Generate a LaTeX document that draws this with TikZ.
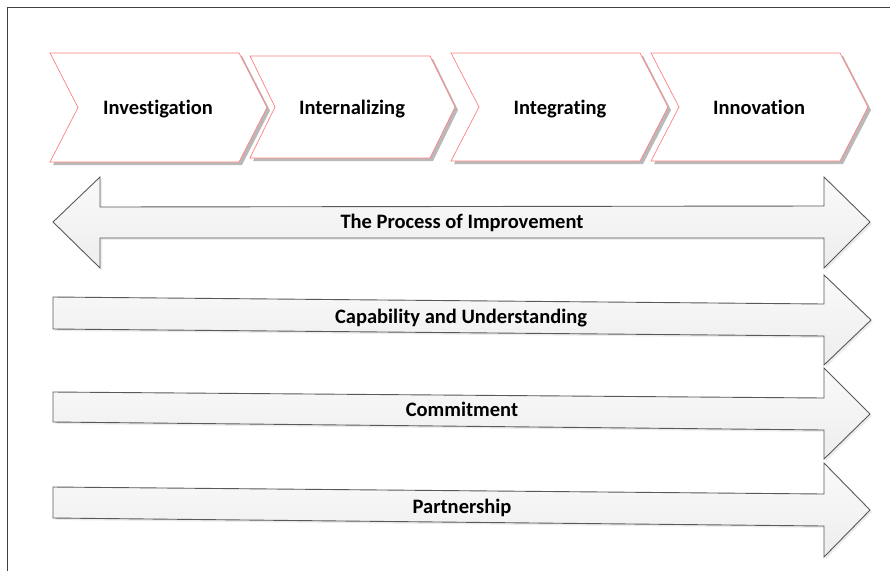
\documentclass[tikz,border=0pt]{standalone}
\usepackage{fontspec}
\setmainfont{Carlito}[Ligatures=NoCommon]
\usetikzlibrary{shadows}

% chevron outline: #1 = left x, #2 = top y, #3 = body width, #4 = height, #5 = point depth
\newcommand\chevronpath[5]{%
  (#1,#2) -- ++(#3,0) -- ++(#5,#4/2) -- ++(-#5,#4/2) -- ++(-#3,0) -- ++(#5,-#4/2) -- cycle}

\begin{document}
\begin{tikzpicture}[x=1pt,y=-1pt,
  chev/.style={draw=red!50, line width=0.7pt, fill=white,
    drop shadow={shadow xshift=3pt, shadow yshift=-3pt, fill=black!55}},
  arr/.style={draw=black!65, line width=0.9pt, top color=black!2, bottom color=black!7,
    drop shadow={shadow xshift=2pt, shadow yshift=-2pt, fill=black!15}},
  lbl/.style={font=\bfseries\fontsize{20.5}{24}\selectfont, inner sep=0pt, anchor=base}]
\useasboundingbox (0,0) rectangle (890,571);

% page frame
\draw[black!75, line width=1pt] (7,571) -- (7,7) -- (890,7);

% phase chevrons
\path[chev] \chevronpath{50}{53}{189}{109}{28};
\path[chev] \chevronpath{250}{56}{180}{102}{25};
\path[chev] \chevronpath{451}{53}{189}{108}{28};
\path[chev] \chevronpath{651}{53}{189}{108}{28};

\node[lbl] (investigation) at (158,114.5) {Investigation};
\node[lbl] (internalizing) at (352,114.5) {Internalizing};
\node[lbl] (integrating) at (560,114.5) {Integrating};
\node[lbl] (innovation) at (759,114.5) {Innovation};

% double arrow
\path[arr] (53,222) -- (100,177) -- (100,207) -- (824,206) -- (824,177) -- (870,222)
  -- (824,268) -- (824,238) -- (100,238) -- (100,268) -- cycle;
\node[lbl] (process) at (462,228) {The Process of Improvement};

% single arrows
\path[arr] (53,297) -- (824,304) -- (824,275) -- (871,320) -- (824,365) -- (824,336)
  -- (53,329) -- cycle;
\node[lbl] (capability) at (461,323) {Capability and Understanding};

\path[arr] (53,392) -- (824,398) -- (824,368) -- (870,414) -- (824,459) -- (824,430)
  -- (53,422) -- cycle;
\node[lbl] (commitment) at (462,416.5) {Commitment};

\path[arr] (53,487) -- (824,494) -- (824,463) -- (870,510) -- (824,557) -- (824,526)
  -- (53,518) -- cycle;
\node[lbl] (partnership) at (462,513) {Partnership};
\end{tikzpicture}
\end{document}
